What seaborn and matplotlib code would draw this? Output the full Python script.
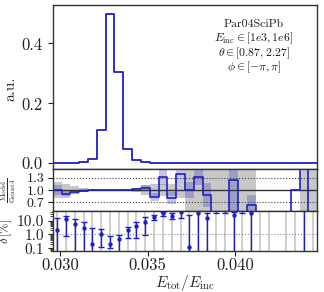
import numpy as np
import pandas as pd
import matplotlib
matplotlib.use("Agg")
import matplotlib.pyplot as plt
import seaborn as sns

# ---------------- data ----------------
E_MIN, E_MAX, N_BINS = 0.02956, 0.04471, 30

model_hist = [0.0005, 0.001, 0.002, 0.004, 0.013, 0.111, 0.499, 0.304, 0.049, 0.010,
              0.004, 0.0015, 0.0008, 0.0005, 0.0004, 0.0003, 0.0003, 0.0002, 0.0, 0.0,
              0.0001, 0.0, 0.0001, 0.0, 0.0, 0.0, 0.0, 0.0001, 0.0001, 0.0]

ratio = [1.0, 0.90, 0.95, 0.98, 0.99, 1.0, 1.0, 1.0, 1.01, 1.03,
         1.06, 0.82, 1.31, 0.80, 1.39, 1.0, 1.32, 0.87, 0.0, 0.0,
         1.25, 0.0, 0.63, 0.0, 0.0, 0.0, 0.0, 1.0, 2.0, 0.0]

ratio_err = [0.12, 0.09, 0.06, 0.04, 0.02, 0.01, 0.005, 0.006, 0.01, 0.03,
             0.06, 0.10, 0.18, 0.15, 0.18, 0.20, 0.20, 0.30, np.nan, np.nan,
             1.2, np.nan, 0.25, np.nan, np.nan, np.nan, np.nan, np.nan, np.nan, np.nan]

g4_rel_err = [0.20, 0.15, 0.10, 0.06, 0.03, 0.01, 0.005, 0.006, 0.02, 0.04,
              0.12, 0.14, 0.15, 0.16, 0.20, 0.60, 0.60, 0.60, 0.80, 0.80,
              1.0, 1.0, 1.0, np.nan, np.nan, np.nan, np.nan, np.nan, 1.0, 1.0]

delta = [2.1, 12.2, 5.9, 2.9, 0.20, 1.08, 0.22, 0.48, 2.1, 4.25,
         7.4, 16.9, 32.5, 22.0, 38.5, 0.13, 32.5, 14.3, 80.0, 80.0,
         24.6, 80.0, 36.0, np.nan, np.nan, np.nan, np.nan, np.nan, 100.0, np.nan]
delta_lo = [0.001, 0.78, 0.001, 0.001, 0.001, 0.13, 0.108, 0.001, 0.59, 0.54,
            0.92, 10.3, 21.0, 12.2, 14.3, 0.001, 0.001, 0.001, 36.0, 36.0,
            0.001, 34.0, 0.001, np.nan, np.nan, np.nan, np.nan, np.nan, 0.001, np.nan]
delta_hi = [15.8, 22.0, 12.2, 7.4, 3.1, 2.35, 0.78, 0.92, 3.4, 7.4,
            18.7, 24.6, 42.5, 32.5, 60.0, 24.6, 45.0, 36.0, 150.0, 150.0,
            40.0, 150.0, 100.0, np.nan, np.nan, np.nan, np.nan, np.nan, 200.0, np.nan]
g4_delta_line = [1] * 25 + [0] + [1] * 4

main_yticks = [0.0, 0.2, 0.4]
main_yticklabels = ["0.0", "0.2", "0.4"]
ratio_yticks = [0.7, 1.0, 1.3]
ratio_yticklabels = ["0.7", "1.0", "1.3"]
delta_yticks = [0.1, 1.0, 10.0]
delta_yticklabels = ["0.1", "1.0", "10.0"]
x_ticks = [0.030, 0.035, 0.040]
x_ticklabels = ["0.030", "0.035", "0.040"]
annot = ["Par04SciPb", r"$E_{\rm inc} \in [1e3, 1e6]$",
         r"$\theta \in [0.87, 2.27]$", r"$\phi \in [-\pi, \pi]$"]

# ---------------- style ----------------
sns.set_style("ticks")
plt.rcParams.update({
    "font.family": ["cmr10"],
    "mathtext.fontset": "cm",
    "axes.formatter.use_mathtext": True,
    "axes.unicode_minus": False,
    "axes.edgecolor": "#333333",
    "axes.linewidth": 1.0,
    "xtick.color": "#222222",
    "ytick.color": "#222222",
})
BLUE = "#1f1fc8"
TICK_FS = 12

edges = np.linspace(E_MIN, E_MAX, N_BINS + 1)
centers = 0.5 * (edges[:-1] + edges[1:])
widths = np.diff(edges)

fig = plt.figure(figsize=(3.24, 2.92), dpi=100)
L, W = 0.1627, 0.8166
ax = fig.add_axes([L, 0.4212, W, 0.5606])
ax_r = fig.add_axes([L, 0.2774, W, 0.1438])
ax_d = fig.add_axes([L, 0.1404, W, 0.1370])

# ---------------- main panel ----------------
df = pd.DataFrame({"x": centers, "w": model_hist})
sns.histplot(data=df, x="x", weights="w", bins=N_BINS, binrange=(E_MIN, E_MAX),
             element="step", fill=False, color=BLUE, linewidth=1.3, ax=ax)
ax.set_xlim(E_MIN, E_MAX)
ax.set_ylim(-0.019, 0.527)
ax.set_yticks(main_yticks, main_yticklabels)
ax.tick_params(axis="y", labelsize=TICK_FS)
ax.tick_params(axis="x", bottom=False, labelbottom=False)
ax.set_xlabel("")
ax.set_ylabel("a.u.", fontsize=11)
ax.yaxis.set_label_coords(-0.135, 0.49)
for y, t in zip([0.868, 0.779, 0.690, 0.601], annot):
    ax.text(0.76, y, t, transform=ax.transAxes, ha="center", va="baseline",
            fontsize=8.5, color="#1a1a1a")

# ---------------- ratio panel ----------------
r = np.array(ratio)
re = np.array(ratio_err)
ge = np.array(g4_rel_err)
ax_r.bar(edges[:-1], 2 * ge, bottom=1 - ge, width=widths, align="edge",
         color="#777777", alpha=0.4, linewidth=0, zorder=1)
ax_r.bar(edges[:-1], 2 * re, bottom=r - re, width=widths, align="edge",
         color="#4040c0", alpha=0.3, linewidth=0, zorder=1.5)
ax_r.axhline(1.0, color="#333333", lw=1.0, zorder=2)
for v in (0.7, 1.3):
    ax_r.axhline(v, color="#444444", lw=0.8, ls=":", zorder=2)
dfr = pd.DataFrame({"x": centers, "w": ratio})
sns.histplot(data=dfr, x="x", weights="w", bins=N_BINS, binrange=(E_MIN, E_MAX),
             element="step", fill=False, color=BLUE, linewidth=1.2, ax=ax_r, zorder=3)
ax_r.set_xlim(E_MIN, E_MAX)
ax_r.set_ylim(0.48, 1.52)
ax_r.set_yticks(ratio_yticks, ratio_yticklabels)
ax_r.tick_params(axis="y", labelsize=10, pad=2.5)
ax_r.tick_params(axis="x", bottom=False, labelbottom=False)
ax_r.set_xlabel("")
ax_r.set_ylabel(r"$\frac{\mathrm{Model}}{\mathrm{Geant4}}$", fontsize=7.5)
ax_r.yaxis.set_label_coords(-0.13, 0.5)

# ---------------- delta panel ----------------
d = np.array(delta)
dlo = np.array(delta_lo)
dhi = np.array(delta_hi)
gmask = np.array(g4_delta_line) == 1
ax_d.set_yscale("log")
ax_d.vlines(centers[gmask], 1e-3, 1e3, color="#cccccc", lw=1.3, zorder=1)
ax_d.axhline(1.0, color="#888888", lw=0.8, ls=":", zorder=1.5)
ok = ~np.isnan(d)
ax_d.errorbar(centers[ok], d[ok], yerr=[d[ok] - dlo[ok], dhi[ok] - d[ok]], fmt="none",
              ecolor=BLUE, elinewidth=1.0, capsize=2.0, capthick=1.0, zorder=3)
dfd = pd.DataFrame({"x": centers[ok], "y": d[ok]})
sns.scatterplot(data=dfd, x="x", y="y", color=BLUE, s=10, linewidth=0, ax=ax_d, zorder=4)
ax_d.set_xlim(E_MIN, E_MAX)
ax_d.set_ylim(0.065, 48)
ax_d.set_yticks(delta_yticks, delta_yticklabels)
ax_d.set_xticks(x_ticks, x_ticklabels)
ax_d.tick_params(axis="y", labelsize=11, pad=2.5)
ax_d.tick_params(axis="x", labelsize=TICK_FS, pad=1.5)
ax_d.set_xlabel(r"$E_{\rm tot}/E_{\rm inc}$", fontsize=11, labelpad=-0.5)
ax_d.set_ylabel(r"$\delta\,[\%]$", fontsize=9)
ax_d.yaxis.set_label_coords(-0.145, 0.5)

for a in (ax, ax_r, ax_d):
    for s in a.spines.values():
        s.set_zorder(5)

fig.savefig("out.png", dpi=100)
